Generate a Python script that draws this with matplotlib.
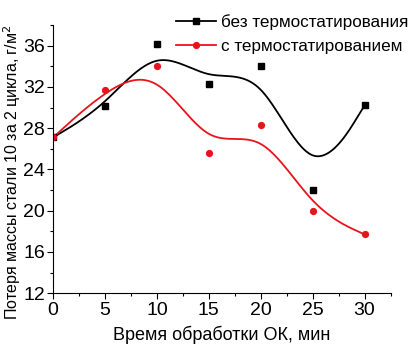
import numpy as np
import matplotlib.pyplot as plt
from matplotlib.ticker import MultipleLocator

plt.rcParams['font.family'] = ['Liberation Sans', 'DejaVu Sans']

# time of treatment, min
time_min = [0, 5, 10, 15, 20, 25, 30]
# mass loss, g/m2
loss_no_thermo = [27.1, 30.1, 36.2, 32.3, 34.0, 22.0, 30.2]
loss_thermo = [27.1, 31.7, 34.0, 25.6, 28.3, 20.0, 17.7]

label_no_thermo = 'без термостатирования'
label_thermo = 'с термостатированием'


def bspline(xs, ys, n=40):
    # uniform cubic B-spline with the data points as control points
    # (end points tripled so the curve starts and ends on them)
    pts = np.column_stack([xs, ys]).astype(float)
    pts = np.vstack([pts[:1], pts[:1], pts, pts[-1:], pts[-1:]])
    t = np.linspace(0, 1, n)
    b0 = (1 - t) ** 3 / 6
    b1 = (3 * t ** 3 - 6 * t ** 2 + 4) / 6
    b2 = (-3 * t ** 3 + 3 * t ** 2 + 3 * t + 1) / 6
    b3 = t ** 3 / 6
    segs = []
    for i in range(len(pts) - 3):
        p = pts[i:i + 4]
        segs.append(np.outer(b0, p[0]) + np.outer(b1, p[1]) + np.outer(b2, p[2]) + np.outer(b3, p[3]))
    curve = np.vstack(segs)
    return curve[:, 0], curve[:, 1]


fig = plt.figure(figsize=(4.15, 3.47), dpi=100)
ax = fig.add_axes([0.128, 0.155, 0.813, 0.773])

bx, by = bspline(time_min, loss_no_thermo)
rx, ry = bspline(time_min, loss_thermo)
ax.plot(bx, by, color='black', lw=1.3)
ax.plot(rx, ry, color='#e8141b', lw=1.3)
ax.plot(time_min, loss_no_thermo, 's', color='black', ms=4)
ax.plot(time_min, loss_thermo, 'o', color='#e8141b', ms=4.2)

# legend proxies
ax.plot([], [], '-s', color='black', ms=4, lw=1.3, label=label_no_thermo)
ax.plot([], [], '-o', color='#e8141b', ms=4.2, lw=1.3, label=label_thermo)
ax.legend(loc='upper left', bbox_to_anchor=(0.345, 1.065), frameon=False,
          fontsize=12.3, handlelength=2.3, handletextpad=0.3,
          borderaxespad=0, labelspacing=0.5)

ax.set_xlim(0, 32.5)
ax.set_ylim(12, 38)
ax.xaxis.set_major_locator(MultipleLocator(5))
ax.xaxis.set_minor_locator(MultipleLocator(2.5))
ax.yaxis.set_major_locator(MultipleLocator(4))
ax.yaxis.set_minor_locator(MultipleLocator(2))
ax.spines['top'].set_visible(False)
ax.spines['right'].set_visible(False)
ax.tick_params(which='major', direction='out', length=4, width=0.8, labelsize=14, pad=2)
ax.tick_params(which='minor', direction='out', length=2, width=0.8)

ax.set_xlabel('Время обработки ОК, мин', fontsize=13, labelpad=5)
ax.set_ylabel('Потеря массы стали 10 за 2 цикла, г/м$^2$', fontsize=11.5)
ax.yaxis.set_label_coords(-0.09, 0.45)

fig.savefig('out.png', dpi=100)
